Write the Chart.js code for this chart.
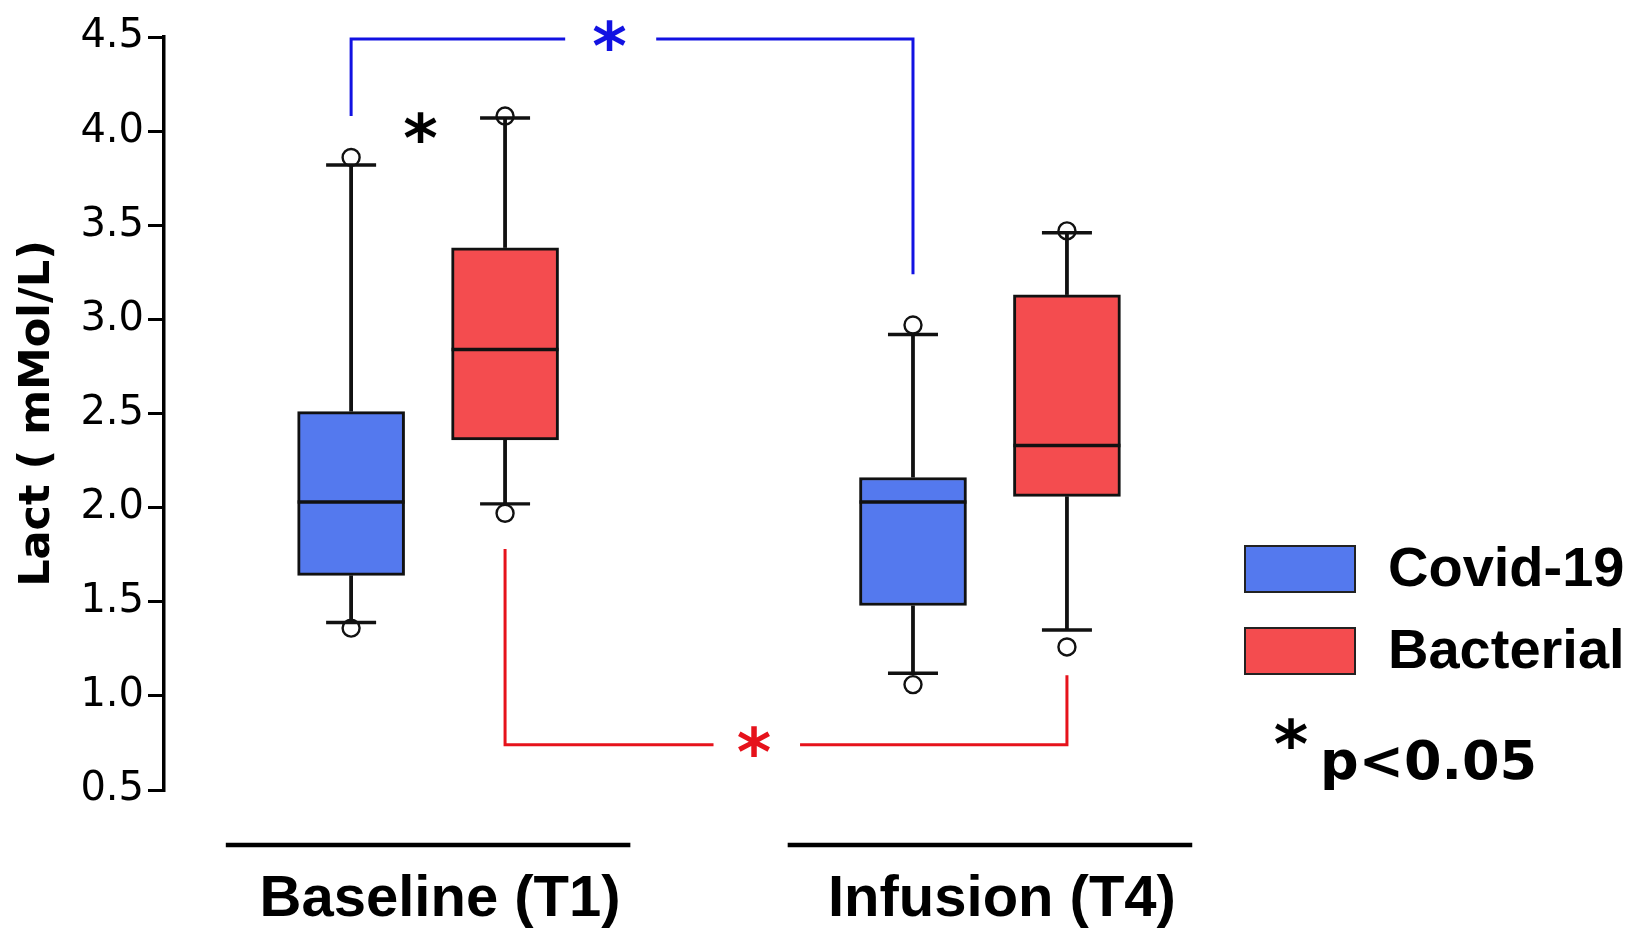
<!DOCTYPE html>
<html>
<head>
<meta charset="utf-8">
<script src="https://cdn.jsdelivr.net/npm/chart.js@4.4.1/dist/chart.umd.min.js"></script>
<style>
  html,body{margin:0;padding:0;background:#fff;}
  #wrap{width:1640px;height:942px;position:relative;}
</style>
</head>
<body>
<div id="wrap"><canvas id="c"></canvas></div>
<script>
// ---- data ----
const categories = ["Baseline (T1)", "Infusion (T4)"];
const seriesNames = ["Covid-19", "Bacterial"];

const covidQ1     = [1.64, 1.48];
const covidMedian = [2.03, 2.03];
const covidQ3     = [2.51, 2.16];
const covidLow    = [1.39, 1.12];
const covidHigh   = [3.82, 2.92];
const covidOut    = [[1.36, 3.86], [1.06, 2.97]];

const bactQ1      = [2.36, 2.06];
const bactMedian  = [2.84, 2.33];
const bactQ3      = [3.38, 3.13];
const bactLow     = [2.02, 1.35];
const bactHigh    = [4.07, 3.46];
const bactOut     = [[1.97, 4.08], [1.26, 3.47]];

const yTicks = [0.5, 1.0, 1.5, 2.0, 2.5, 3.0, 3.5, 4.0, 4.5];

// significance marks (values on the y axis)
const sigBrackets = [
  {series:0, level:4.49, dropFrom:4.08, dropTo:3.24, star:0.46, gap:[0.381,0.543], color:"#1212e2"},
  {series:1, level:0.74, dropFrom:1.78, dropTo:1.11, star:0.443, gap:[0.371,0.525], color:"#e6121b"}
];
const pairStar = {cat:0, level:4.0, at:0.45};

// ---- layout / style ----
const COLORS = ["#5479ee", "#f44c4f"];
const OFFSET = [-0.137, 0.137];
const BOX_W = 107, CAP_W = 50;

const stats = [
  {q1:covidQ1, med:covidMedian, q3:covidQ3, lo:covidLow, hi:covidHigh, out:covidOut},
  {q1:bactQ1, med:bactMedian, q3:bactQ3, lo:bactLow, hi:bactHigh, out:bactOut}
];

function boxData(s){
  return categories.map((c,i)=>({x:i+OFFSET[s], y:[stats[s].q1[i], stats[s].q3[i]]}));
}
function outlierData(){
  const pts=[];
  stats.forEach((st,s)=>st.out.forEach((arr,i)=>arr.forEach(v=>pts.push({x:i+OFFSET[s], y:v}))));
  return pts;
}

function drawStar(ctx, cx, cy, color){
  ctx.save();
  ctx.font = 'bold 66px "DejaVu Sans"';
  ctx.fillStyle = color; ctx.textAlign = "center"; ctx.textBaseline = "alphabetic";
  ctx.fillText("*", cx, cy + 0.45*66);
  ctx.restore();
}
function line(ctx, x1, y1, x2, y2){ ctx.beginPath(); ctx.moveTo(x1,y1); ctx.lineTo(x2,y2); ctx.stroke(); }

const boxDecor = {
  id: "boxDecor",
  afterDatasetsDraw(chart){
    const {ctx, scales:{x, y}, chartArea} = chart;
    ctx.save();
    ctx.strokeStyle = "#111"; ctx.lineCap = "butt";
    // whiskers, caps, medians
    stats.forEach((st,s)=>{
      const meta = chart.getDatasetMeta(s);
      meta.data.forEach((bar,i)=>{
        const cx = bar.x;
        ctx.lineWidth = 3.8;
        line(ctx, cx, y.getPixelForValue(st.q3[i]), cx, y.getPixelForValue(st.hi[i]));
        line(ctx, cx, y.getPixelForValue(st.q1[i]), cx, y.getPixelForValue(st.lo[i]));
        ctx.lineWidth = 3.4;
        line(ctx, cx-CAP_W/2, y.getPixelForValue(st.hi[i]), cx+CAP_W/2, y.getPixelForValue(st.hi[i]));
        line(ctx, cx-CAP_W/2, y.getPixelForValue(st.lo[i]), cx+CAP_W/2, y.getPixelForValue(st.lo[i]));
        ctx.lineWidth = 3.6;
        line(ctx, cx-BOX_W/2, y.getPixelForValue(st.med[i]), cx+BOX_W/2, y.getPixelForValue(st.med[i]));
      });
    });
    // significance brackets
    sigBrackets.forEach(b=>{
      const x1 = x.getPixelForValue(0+OFFSET[b.series]);
      const x2 = x.getPixelForValue(1+OFFSET[b.series]);
      const yl = y.getPixelForValue(b.level);
      ctx.strokeStyle = b.color; ctx.lineWidth = 3;
      ctx.beginPath();
      ctx.moveTo(x1, y.getPixelForValue(b.dropFrom)); ctx.lineTo(x1, yl); ctx.lineTo(x1+(x2-x1)*b.gap[0], yl);
      ctx.stroke();
      ctx.beginPath();
      ctx.moveTo(x1+(x2-x1)*b.gap[1], yl); ctx.lineTo(x2, yl); ctx.lineTo(x2, y.getPixelForValue(b.dropTo));
      ctx.stroke();
      drawStar(ctx, x1+(x2-x1)*b.star, yl, b.color);
    });
    // star between the two baseline boxes
    {
      const xa = x.getPixelForValue(pairStar.cat+OFFSET[0]);
      const xb = x.getPixelForValue(pairStar.cat+OFFSET[1]);
      drawStar(ctx, xa+(xb-xa)*pairStar.at, y.getPixelForValue(pairStar.level), "#000");
    }
    // group underlines
    ctx.strokeStyle = "#000"; ctx.lineWidth = 4.5;
    categories.forEach((c,i)=>{
      line(ctx, x.getPixelForValue(i-0.36), chartArea.bottom+55, x.getPixelForValue(i+0.36), chartArea.bottom+55);
    });
    // legend
    chart.data.datasets.slice(0,2).forEach((ds,k)=>{
      const top = 546 + k*82;
      ctx.fillStyle = ds.backgroundColor;
      ctx.fillRect(1245, top, 110, 46);
      ctx.strokeStyle = "#222"; ctx.lineWidth = 2;
      ctx.strokeRect(1245, top, 110, 46);
      ctx.fillStyle = "#000";
      ctx.font = 'bold 56px "Liberation Sans"';
      ctx.textAlign = "left"; ctx.textBaseline = "middle";
      ctx.fillText(ds.label, 1388, top + 25);
    });
    drawStar(ctx, 1291, 737, "#000");
    ctx.fillStyle = "#000";
    ctx.font = 'bold 54px "DejaVu Sans"';
    ctx.textAlign = "left"; ctx.textBaseline = "alphabetic";
    ctx.fillText("p<0.05", 1320, 779);
    ctx.restore();
  }
};

const barDefaults = {
  type: "bar", borderColor: "#111", borderWidth: 3, borderSkipped: false,
  barThickness: BOX_W, grouped: false
};

new Chart(document.getElementById("c"), {
  type: "bar",
  data: {
    datasets: [
      {...barDefaults, label: seriesNames[0], data: boxData(0), backgroundColor: COLORS[0], order: 2},
      {...barDefaults, label: seriesNames[1], data: boxData(1), backgroundColor: COLORS[1], order: 2},
      {type: "scatter", label: "outliers", data: outlierData(), pointRadius: 8.5,
       pointBackgroundColor: "#fff", pointBorderColor: "#111", pointBorderWidth: 2.4, order: 1}
    ]
  },
  options: {
    responsive: true, maintainAspectRatio: false, animation: false, events: [],
    layout: {padding: {top: 37, right: 400, bottom: 0, left: 0}},
    plugins: {legend: {display: false}, tooltip: {enabled: false}},
    scales: {
      x: {
        type: "linear", min: -0.47, max: 1.445, offset: false,
        afterBuildTicks: s => { s.ticks = categories.map((c,i)=>({value:i})); },
        afterFit: s => { s.height = 152; },
        ticks: {
          callback: v => categories[v] ?? "", autoSkip: false, maxRotation: 0,
          font: {family: "Liberation Sans", weight: "bold", size: 58}, color: "#000",
          padding: 75, labelOffset: 12
        },
        grid: {display: false, drawTicks: false, offset: false},
        border: {display: false}
      },
      y: {
        min: 0.5, max: 4.5,
        afterBuildTicks: s => { s.ticks = yTicks.map(v=>({value:v})); },
        afterFit: s => { s.width = 164; },
        ticks: {callback: v => v.toFixed(1), font: {family: "DejaVu Sans", size: 40}, color: "#000", padding: 4},
        grid: {display: true, drawOnChartArea: false, drawTicks: true, tickLength: 16, color: "#000", lineWidth: 3},
        border: {display: true, color: "#000", width: 3.5},
        title: {display: true, text: "Lact ( mMol/L)", color: "#000",
                font: {family: "DejaVu Sans", weight: "bold", size: 43}, padding: {top: 12, bottom: 0}}
      }
    }
  },
  plugins: [boxDecor]
});
</script>
</body>
</html>
